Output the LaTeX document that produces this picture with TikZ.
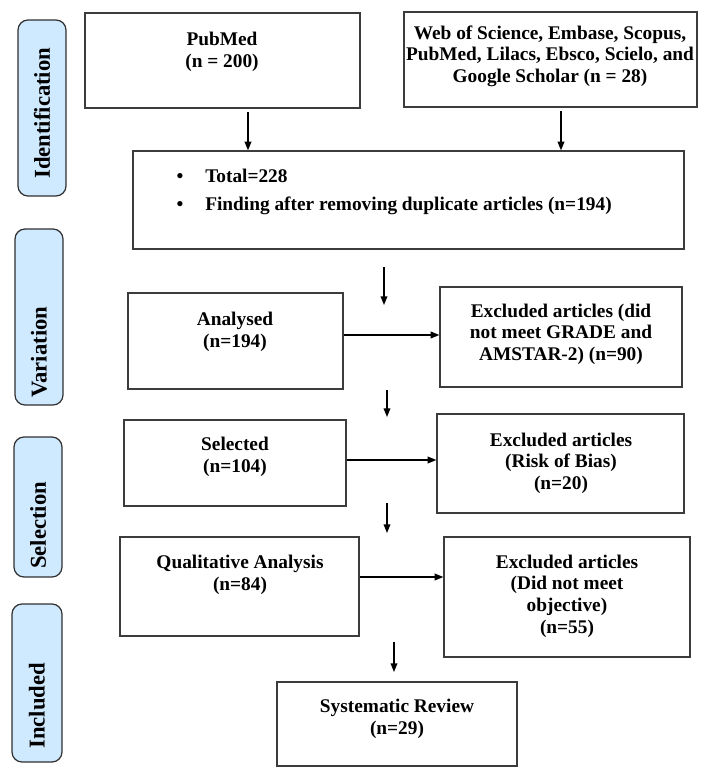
\documentclass[tikz,border=0pt]{standalone}
\usepackage{fontspec}
\setmainfont{Liberation Serif}
\usetikzlibrary{arrows.meta,fit}
\definecolor{sidefill}{HTML}{CFE9FF}
\definecolor{sideline}{HTML}{303030}
\definecolor{boxline}{HTML}{3C3C3C}
\begin{document}
\begin{tikzpicture}[x=0.75pt,y=-0.75pt,
  box/.style={draw=boxline,line width=0.9pt,inner sep=0pt},
  side/.style={draw=sideline,fill=sidefill,line width=0.9pt,rounded corners=7.5pt,inner sep=0pt},
  sidetxt/.style={rotate=90,anchor=west,font=\fontsize{17}{20}\selectfont\bfseries,inner sep=0pt},
  txt/.style={align=center,font=\fontsize{14.5}{16.2}\selectfont\bfseries,inner sep=0pt},
  arr/.style={line width=1pt,-{Triangle[length=6.5pt,width=5pt]}}]
\useasboundingbox (0,0) rectangle (706,768);

% side labels
\node[side,fit={(18,20) (66,196)}] (sid) {};
\node[sidetxt] (sidt) at (42,179) {Identification};
\node[side,fit={(15,229) (63,405)}] (var) {};
\node[sidetxt] (vart) at (39,398) {Variation};
\node[side,fit={(14,437) (62,577)}] (sel) {};
\node[sidetxt] (selt) at (38,569) {Selection};
\node[side,fit={(12,604) (62,762)}] (inc) {};
\node[sidetxt] (inct) at (37,749) {Included};

% boxes
\node[box,fit={(85,13) (360,108)}] (pub) {};
\node[txt] (pubt) at (222,52) {PubMed\\(n = 200)};
\node[box,fit={(404,12) (697,107)}] (wos) {};
\node[txt] (wost) at (550,56) {Web of Science, Embase, Scopus,\\PubMed, Lilacs, Ebsco, Scielo, and\\Google Scholar (n = 28)};
\node[box,fit={(133,151) (684,249)}] (tot) {};
\node[txt,anchor=base] (b1) at (180,182) {•};
\node[txt,anchor=base west] (t1) at (205,182) {Total=228};
\node[txt,anchor=base] (b2) at (180,210) {•};
\node[txt,anchor=base west] (t2) at (205,210) {Finding after removing duplicate articles (n=194)};

\node[box,fit={(128,293) (343,389)}] (ana) {};
\node[txt] (anat) at (235,332) {Analysed\\(n=194)};
\node[box,fit={(440,287) (682,387)}] (ex1) {};
\node[txt] (ex1t) at (561,334) {Excluded articles (did\\not meet GRADE and\\AMSTAR-2) (n=90)};

\node[box,fit={(124,420) (346,506)}] (slc) {};
\node[txt] (slct) at (235,457) {Selected\\(n=104)};
\node[box,fit={(437,414) (684,513)}] (ex2) {};
\node[txt] (ex2t) at (561,463) {Excluded articles\\(Risk of Bias)\\(n=20)};

\node[box,fit={(120,537) (359,636)}] (qua) {};
\node[txt] (quat) at (240,575) {Qualitative Analysis\\(n=84)};
\node[box,fit={(444,537) (690,657)}] (ex3) {};
\node[txt] (ex3t) at (567,596) {Excluded articles\\(Did not meet\\objective)\\(n=55)};

\node[box,fit={(277,682) (517,766)}] (sys) {};
\node[txt] (syst) at (397,719) {Systematic Review\\(n=29)};

% arrow coordinates
\coordinate (p1) at (248,112);
\coordinate (p2) at (561,111);
\coordinate (a1) at (384,267);
\coordinate (a2) at (384,305);
\coordinate (c1) at (387,390);
\coordinate (c2) at (387,417);
\coordinate (d1) at (387,503);
\coordinate (d2) at (387,533);
\coordinate (e1) at (394,642);
\coordinate (e2) at (394,672);

\draw[arr] (p1) -- (p1 |- tot.north);
\draw[arr] (p2) -- (p2 |- tot.north);
\draw[arr] (a1) -- (a2);
\draw[arr] (ana.east |- 0,335) -- (ex1.west |- 0,335);
\draw[arr] (c1) -- (c2);
\draw[arr] (slc.east |- 0,460) -- (ex2.west |- 0,460);
\draw[arr] (d1) -- (d2);
\draw[arr] (qua.east |- 0,577) -- (ex3.west |- 0,577);
\draw[arr] (e1) -- (e2);
\end{tikzpicture}
\end{document}
